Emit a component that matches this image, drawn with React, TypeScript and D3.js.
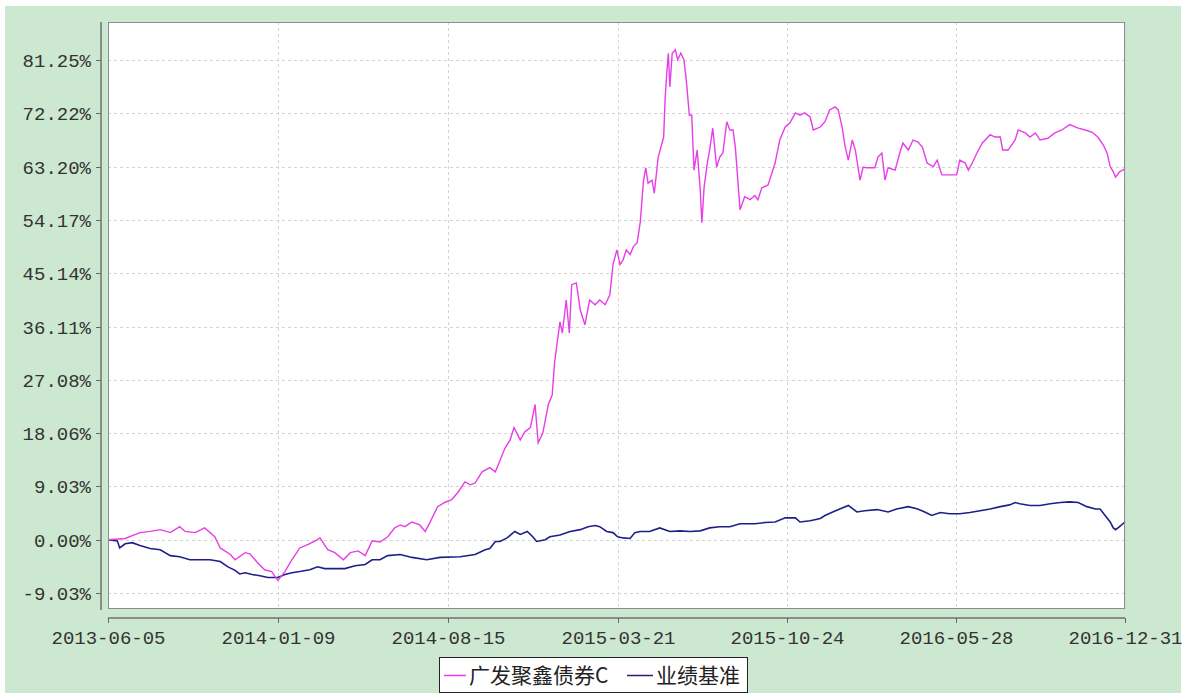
import React, { useEffect, useRef } from 'react';
import * as d3 from 'd3';

const fundDates = [
  '2013-06-05', '2013-06-27', '2013-07-16', '2013-07-29', '2013-08-11', '2013-08-24', '2013-09-05', '2013-09-12',
  '2013-09-25', '2013-10-07', '2013-10-20', '2013-10-27', '2013-11-09', '2013-11-15', '2013-11-28', '2013-12-04',
  '2013-12-14', '2013-12-23', '2014-01-01', '2014-01-09', '2014-01-18', '2014-01-27', '2014-02-06', '2014-02-17',
  '2014-02-26', '2014-03-04', '2014-03-14', '2014-03-23', '2014-04-03', '2014-04-12', '2014-04-22', '2014-05-01',
  '2014-05-10', '2014-05-20', '2014-05-30', '2014-06-08', '2014-06-15', '2014-06-21', '2014-06-30', '2014-07-10',
  '2014-07-17', '2014-07-23', '2014-08-02', '2014-08-11', '2014-08-20', '2014-08-28', '2014-09-06', '2014-09-13',
  '2014-09-19', '2014-09-28', '2014-10-08', '2014-10-15', '2014-10-21', '2014-10-27', '2014-11-03', '2014-11-08',
  '2014-11-16', '2014-11-22', '2014-11-29', '2014-12-05', '2014-12-09', '2014-12-15', '2014-12-22', '2014-12-27',
  '2014-12-30', '2015-01-03', '2015-01-06', '2015-01-09', '2015-01-14', '2015-01-18', '2015-01-21', '2015-01-27',
  '2015-02-01', '2015-02-07', '2015-02-13', '2015-02-20', '2015-02-26', '2015-03-05', '2015-03-11', '2015-03-15',
  '2015-03-20', '2015-03-24', '2015-03-28', '2015-04-01', '2015-04-06', '2015-04-10', '2015-04-15', '2015-04-19',
  '2015-04-23', '2015-04-26', '2015-04-29', '2015-05-04', '2015-05-07', '2015-05-12', '2015-05-17', '2015-05-19',
  '2015-05-21', '2015-05-23', '2015-05-25', '2015-05-27', '2015-05-30', '2015-06-03', '2015-06-06', '2015-06-10',
  '2015-06-14', '2015-06-17', '2015-06-21', '2015-06-24', '2015-06-27', '2015-07-01', '2015-07-05', '2015-07-07',
  '2015-07-10', '2015-07-14', '2015-07-17', '2015-07-21', '2015-07-26', '2015-07-30', '2015-08-03', '2015-08-08',
  '2015-08-12', '2015-08-16', '2015-08-19', '2015-08-25', '2015-08-31', '2015-09-07', '2015-09-13', '2015-09-17',
  '2015-09-22', '2015-09-30', '2015-10-09', '2015-10-15', '2015-10-22', '2015-10-28', '2015-11-04', '2015-11-10',
  '2015-11-16', '2015-11-23', '2015-11-27', '2015-12-06', '2015-12-12', '2015-12-18', '2015-12-25', '2015-12-29',
  '2016-01-03', '2016-01-07', '2016-01-11', '2016-01-16', '2016-01-20', '2016-01-26', '2016-01-30', '2016-02-03',
  '2016-02-14', '2016-02-18', '2016-02-23', '2016-02-27', '2016-03-02', '2016-03-11', '2016-03-17', '2016-03-21',
  '2016-03-28', '2016-04-03', '2016-04-09', '2016-04-15', '2016-04-21', '2016-04-29', '2016-05-04', '2016-05-10',
  '2016-05-20', '2016-05-29', '2016-06-02', '2016-06-09', '2016-06-13', '2016-06-18', '2016-06-24', '2016-07-01',
  '2016-07-11', '2016-07-17', '2016-07-24', '2016-07-27', '2016-08-03', '2016-08-12', '2016-08-16', '2016-08-25',
  '2016-08-31', '2016-09-07', '2016-09-13', '2016-09-23', '2016-10-02', '2016-10-11', '2016-10-21', '2016-11-01',
  '2016-11-10', '2016-11-19', '2016-11-26', '2016-12-03', '2016-12-08', '2016-12-12', '2016-12-16', '2016-12-19',
  '2016-12-24', '2016-12-31',
];

const fundValues = [
  0.0, 0.2, 1.2, 1.4, 1.7, 1.2, 2.2, 1.4,
  1.2, 2.0, 0.5, -1.4, -2.5, -3.4, -2.2, -2.4,
  -3.9, -5.1, -5.4, -6.9, -5.4, -3.4, -1.4, -0.8,
  -0.2, 0.3, -1.7, -2.2, -3.4, -2.2, -1.9, -2.7,
  -0.2, -0.4, 0.5, 2.0, 2.5, 2.2, 3.0, 2.5,
  1.4, 2.9, 5.6, 6.3, 6.8, 8.0, 9.8, 9.3,
  9.6, 11.5, 12.2, 11.5, 13.4, 15.4, 16.9, 19.0,
  16.9, 18.3, 19.0, 22.9, 16.4, 18.1, 22.9, 24.5,
  30.0, 34.0, 36.9, 35.0, 40.6, 35.0, 43.2, 43.5,
  38.9, 36.4, 40.6, 39.8, 40.6, 39.8, 41.5, 46.6,
  49.1, 46.6, 47.4, 49.1, 48.3, 49.6, 50.3, 53.8,
  60.6, 63.0, 60.4, 60.9, 58.7, 64.8, 67.2, 68.2,
  75.0, 79.0, 82.4, 76.7, 82.4, 83.0, 81.3, 82.4,
  81.3, 77.9, 71.9, 71.9, 62.6, 66.0, 59.2, 53.7,
  59.8, 63.8, 66.0, 69.7, 63.1, 64.8, 65.5, 70.8,
  69.4, 69.4, 66.5, 55.9, 58.1, 57.6, 58.3, 57.6,
  59.6, 60.1, 63.8, 67.7, 69.9, 70.6, 72.3, 71.9,
  72.3, 71.6, 69.4, 69.9, 70.8, 72.8, 73.3, 72.8,
  69.9, 66.5, 64.3, 67.7, 66.0, 60.9, 63.1, 63.0,
  63.0, 64.8, 65.5, 60.9, 63.0, 62.6, 65.5, 67.2,
  66.0, 67.7, 67.4, 66.5, 63.8, 63.2, 64.3, 61.8,
  61.8, 61.8, 64.3, 63.8, 62.6, 63.8, 65.5, 67.2,
  68.6, 68.2, 68.2, 66.0, 66.0, 67.7, 69.4, 68.9,
  68.2, 68.9, 67.7, 68.0, 68.9, 69.4, 70.3, 69.7,
  69.4, 69.0, 68.2, 66.9, 65.5, 63.2, 62.3, 61.4,
  62.3, 62.8,
];

const benchDates = [
  '2013-06-05', '2013-06-17', '2013-06-20', '2013-06-27', '2013-07-06', '2013-07-16', '2013-07-29', '2013-08-11',
  '2013-08-24', '2013-09-05', '2013-09-18', '2013-10-01', '2013-10-14', '2013-10-27', '2013-11-06', '2013-11-15',
  '2013-11-21', '2013-11-28', '2013-12-07', '2013-12-17', '2013-12-27', '2014-01-09', '2014-01-18', '2014-01-27',
  '2014-02-06', '2014-02-19', '2014-03-01', '2014-03-10', '2014-03-23', '2014-04-05', '2014-04-18', '2014-05-01',
  '2014-05-10', '2014-05-20', '2014-05-30', '2014-06-15', '2014-06-30', '2014-07-19', '2014-08-05', '2014-08-31',
  '2014-09-19', '2014-10-02', '2014-10-08', '2014-10-15', '2014-10-21', '2014-10-30', '2014-11-09', '2014-11-16',
  '2014-11-25', '2014-12-02', '2014-12-07', '2014-12-18', '2014-12-24', '2015-01-06', '2015-01-19', '2015-02-01',
  '2015-02-11', '2015-02-20', '2015-02-26', '2015-03-07', '2015-03-15', '2015-03-21', '2015-03-28', '2015-04-06',
  '2015-04-12', '2015-04-19', '2015-05-01', '2015-05-14', '2015-05-27', '2015-06-09', '2015-06-22', '2015-07-05',
  '2015-07-17', '2015-07-30', '2015-08-12', '2015-08-25', '2015-09-13', '2015-09-26', '2015-10-09', '2015-10-22',
  '2015-11-04', '2015-11-10', '2015-11-23', '2015-12-06', '2015-12-12', '2015-12-22', '2015-12-31', '2016-01-11',
  '2016-01-13', '2016-01-22', '2016-02-01', '2016-02-17', '2016-03-02', '2016-03-13', '2016-03-28', '2016-04-09',
  '2016-04-18', '2016-04-27', '2016-05-08', '2016-05-20', '2016-06-02', '2016-06-15', '2016-06-28', '2016-07-11',
  '2016-07-24', '2016-08-05', '2016-08-12', '2016-08-18', '2016-08-31', '2016-09-13', '2016-09-26', '2016-10-09',
  '2016-10-21', '2016-11-01', '2016-11-12', '2016-11-23', '2016-11-29', '2016-12-05', '2016-12-12', '2016-12-16',
  '2016-12-19', '2016-12-24', '2016-12-31',
];

const benchValues = [
  0.0, -0.2, -1.4, -0.7, -0.5, -1.0, -1.5, -1.7,
  -2.7, -2.9, -3.4, -3.4, -3.4, -3.7, -4.6, -5.2,
  -5.8, -5.6, -5.9, -6.1, -6.4, -6.4, -5.9, -5.6,
  -5.4, -5.1, -4.6, -4.9, -4.9, -4.9, -4.4, -4.2,
  -3.4, -3.4, -2.7, -2.5, -3.0, -3.4, -3.0, -2.9,
  -2.5, -1.7, -1.5, -0.3, -0.3, 0.3, 1.4, 0.9,
  1.4, 0.5, -0.3, 0.0, 0.5, 0.8, 1.4, 1.7,
  2.2, 2.4, 2.2, 1.4, 1.2, 0.5, 0.3, 0.2,
  1.2, 1.4, 1.4, 2.0, 1.4, 1.5, 1.4, 1.5,
  2.0, 2.2, 2.2, 2.7, 2.7, 2.9, 3.0, 3.7,
  3.7, 3.0, 3.2, 3.6, 4.1, 4.7, 5.2, 5.8,
  5.6, 4.7, 4.9, 5.1, 4.7, 5.2, 5.6, 5.2,
  4.7, 4.1, 4.6, 4.4, 4.4, 4.6, 4.9, 5.2,
  5.6, 5.9, 6.3, 6.1, 5.8, 5.8, 6.1, 6.3,
  6.4, 6.3, 5.6, 5.2, 5.2, 4.2, 3.0, 2.0,
  1.7, 2.2, 3.0,
];

const xTickLabels = ['2013-06-05', '2014-01-09', '2014-08-15', '2015-03-21', '2015-10-24', '2016-05-28', '2016-12-31'];
const yTickValues = [-9.03, 0, 9.03, 18.06, 27.08, 36.11, 45.14, 54.17, 63.2, 72.22, 81.25];
const seriesNames = ['广发聚鑫债券C', '业绩基准'];
const seriesColors = ['#e83de8', '#1f1f8a'];

const W = 1190;
const H = 693;
const plot = { left: 108, top: 22, right: 1125, bottom: 609 };
const monoFont = '"Liberation Mono", "DejaVu Sans Mono", monospace';

const App = () => {
  const ref = useRef<SVGSVGElement>(null);

  useEffect(() => {
    const svg = d3.select(ref.current);
    svg.selectAll('*').remove();

    const parse = d3.timeParse('%Y-%m-%d');

    const x = d3.scaleTime()
      .domain([parse('2013-06-05')!, parse('2016-12-31')!])
      .range([plot.left, plot.right]);
    const y = d3.scaleLinear()
      .domain([-11.74, 87.69])
      .range([plot.bottom, plot.top]);

    svg.append('rect').attr('width', W).attr('height', H).attr('fill', '#ffffff');
    svg.append('rect')
      .attr('x', 5).attr('y', 6)
      .attr('width', 1176).attr('height', H - 6)
      .attr('fill', '#cde8d0');

    svg.append('rect')
      .attr('x', plot.left).attr('y', plot.top)
      .attr('width', plot.right - plot.left).attr('height', plot.bottom - plot.top)
      .attr('fill', '#ffffff');

    // grid
    const grid = svg.append('g')
      .attr('stroke', '#d4d4d4')
      .attr('stroke-dasharray', '3,3')
      .attr('stroke-width', 1);
    yTickValues.forEach(v => {
      grid.append('line')
        .attr('x1', plot.left).attr('x2', plot.right)
        .attr('y1', Math.round(y(v)) + 0.5).attr('y2', Math.round(y(v)) + 0.5);
    });
    xTickLabels.forEach(s => {
      const px = Math.round(x(parse(s)!)) + 0.5;
      grid.append('line')
        .attr('x1', px).attr('x2', px)
        .attr('y1', plot.top).attr('y2', plot.bottom);
    });

    // series
    const line = d3.line<[Date, number]>()
      .x(d => x(d[0]))
      .y(d => y(d[1]));

    const fund = fundDates.map((s, i) => [parse(s)!, fundValues[i]] as [Date, number]);
    const bench = benchDates.map((s, i) => [parse(s)!, benchValues[i]] as [Date, number]);

    svg.append('path')
      .datum(bench)
      .attr('d', line)
      .attr('fill', 'none')
      .attr('stroke', seriesColors[1])
      .attr('stroke-width', 1.6);

    svg.append('path')
      .datum(fund)
      .attr('d', line)
      .attr('fill', 'none')
      .attr('stroke', seriesColors[0])
      .attr('stroke-width', 1.4);

    // plot border
    svg.append('rect')
      .attr('x', plot.left + 0.5).attr('y', plot.top + 0.5)
      .attr('width', plot.right - plot.left - 1).attr('height', plot.bottom - plot.top - 1)
      .attr('fill', 'none')
      .attr('stroke', '#8c8c8c');

    // y axis
    const yAxis = svg.append('g').attr('transform', 'translate(101,0)');
    yAxis.append('line')
      .attr('x1', 0).attr('x2', 0)
      .attr('y1', plot.top).attr('y2', plot.bottom + 1)
      .attr('stroke', '#8c8c8c').attr('stroke-width', 2);
    yTickValues.forEach(v => {
      const py = Math.round(y(v)) + 0.5;
      yAxis.append('line')
        .attr('x1', -5).attr('x2', 0)
        .attr('y1', py).attr('y2', py)
        .attr('stroke', '#666');
      yAxis.append('text')
        .attr('x', -10).attr('y', py + 6)
        .attr('text-anchor', 'end')
        .attr('font-family', monoFont)
        .attr('font-size', 19)
        .attr('fill', '#333')
        .text(`${v.toFixed(2)}%`);
    });

    // x axis
    const xAxis = svg.append('g').attr('transform', 'translate(0,618)');
    xAxis.append('line')
      .attr('x1', plot.left).attr('x2', plot.right)
      .attr('y1', 0).attr('y2', 0)
      .attr('stroke', '#8c8c8c').attr('stroke-width', 2);
    xTickLabels.forEach(s => {
      const px = Math.round(x(parse(s)!)) + 0.5;
      xAxis.append('line')
        .attr('x1', px).attr('x2', px)
        .attr('y1', 0).attr('y2', 5)
        .attr('stroke', '#666');
      xAxis.append('text')
        .attr('x', px).attr('y', 26)
        .attr('text-anchor', 'middle')
        .attr('font-family', monoFont)
        .attr('font-size', 19)
        .attr('fill', '#333')
        .text(s);
    });

    // legend
    const legend = svg.append('g');
    legend.append('rect')
      .attr('x', 439.5).attr('y', 657.5)
      .attr('width', 308).attr('height', 35)
      .attr('fill', '#ffffff')
      .attr('stroke', '#222');
    const items = [
      { x1: 444, x2: 466, tx: 469 },
      { x1: 627, x2: 653, tx: 656 },
    ];
    items.forEach((it, i) => {
      legend.append('line')
        .attr('x1', it.x1).attr('x2', it.x2)
        .attr('y1', 675.5).attr('y2', 675.5)
        .attr('stroke', seriesColors[i]).attr('stroke-width', 1.5);
      legend.append('text')
        .attr('x', it.tx).attr('y', 683)
        .attr('font-family', '"Noto Sans CJK SC", sans-serif')
        .attr('font-size', 21)
        .attr('fill', '#222')
        .text(seriesNames[i]);
    });
  }, []);

  return (
    <svg
      ref={ref}
      width={W}
      height={H}
      style={{ position: 'absolute', left: 0, top: 0, display: 'block' }}
    />
  );
};

export default App;
